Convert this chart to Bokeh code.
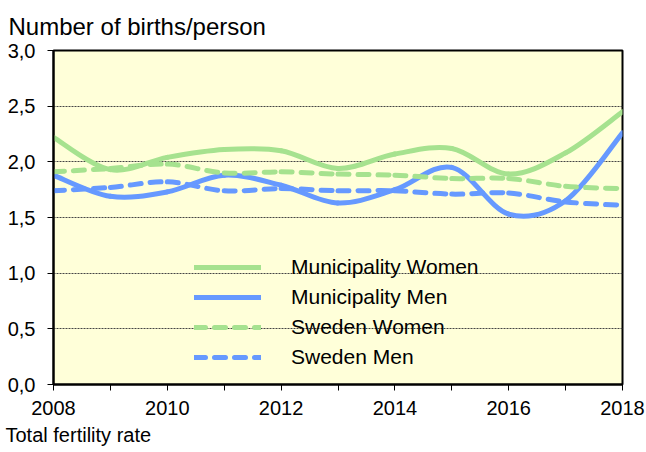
from bokeh.plotting import figure
from bokeh.models import ColumnDataSource, Legend, LegendItem, FixedTicker, Range1d, Title
from bokeh.embed import file_html
from bokeh.resources import INLINE

# ---- data ----
years = [2008, 2009, 2010, 2011, 2012, 2013, 2014, 2015, 2016, 2017, 2018]
muni_women = [2.22, 1.93, 2.04, 2.11, 2.10, 1.94, 2.07, 2.12, 1.89, 2.08, 2.45]
muni_men = [1.88, 1.69, 1.73, 1.88, 1.79, 1.63, 1.75, 1.95, 1.53, 1.65, 2.26]
swe_women = [1.91, 1.94, 1.98, 1.90, 1.91, 1.89, 1.88, 1.85, 1.85, 1.78, 1.76]
swe_men = [1.74, 1.77, 1.82, 1.74, 1.76, 1.74, 1.74, 1.71, 1.72, 1.64, 1.61]
series_names = ["Municipality Women", "Municipality Men", "Sweden Women", "Sweden Men"]
y_ticks = [0.0, 0.5, 1.0, 1.5, 2.0, 2.5, 3.0]
y_tick_labels = ["0,0", "0,5", "1,0", "1,5", "2,0", "2,5", "3,0"]
x_label_years = [2008, 2010, 2012, 2014, 2016, 2018]
title_text = "Number of births/person"
footer_text = "Total fertility rate"

GREEN = "#A6E28F"
BLUE = "#6699FF"
FONT = "Liberation Sans"


def smooth_source(xs, ys):
    n = len(xs)
    d = dict(x0=[], y0=[], x1=[], y1=[], cx0=[], cy0=[], cx1=[], cy1=[])
    for i in range(n - 1):
        a = max(i - 1, 0)
        b = min(i + 2, n - 1)
        d["x0"].append(xs[i]); d["y0"].append(ys[i])
        d["x1"].append(xs[i + 1]); d["y1"].append(ys[i + 1])
        d["cx0"].append(xs[i] + (xs[i + 1] - xs[a]) / 6.0)
        d["cy0"].append(ys[i] + (ys[i + 1] - ys[a]) / 6.0)
        d["cx1"].append(xs[i + 1] - (xs[b] - xs[i]) / 6.0)
        d["cy1"].append(ys[i + 1] - (ys[b] - ys[i]) / 6.0)
    return ColumnDataSource(d)


p = figure(width=646, height=452, output_backend="svg", toolbar_location=None,
           x_range=Range1d(2008, 2018), y_range=Range1d(0, 3),
           min_border_left=53, min_border_right=24, min_border_top=50, min_border_bottom=68)
p.background_fill_color = "#FFFFD9"
p.border_fill_color = "white"
p.outline_line_color = "black"
p.outline_line_width = 2

# axes
for ax in (p.xaxis[0], p.yaxis[0]):
    ax.axis_line_color = "black"
    ax.axis_line_width = 2
    ax.major_tick_line_color = "black"
    ax.major_tick_in = 0
    ax.major_tick_out = 6
    ax.minor_tick_line_color = None
    ax.major_label_text_font = FONT
    ax.major_label_text_font_size = "20px"
    ax.major_label_text_color = "black"

p.xaxis.ticker = FixedTicker(ticks=years)
p.xaxis.major_label_overrides = {y: (str(y) if y in x_label_years else "") for y in years}
p.xaxis.major_label_standoff = 10
p.yaxis.ticker = FixedTicker(ticks=y_ticks)
p.yaxis.major_label_overrides = dict(zip(y_ticks, y_tick_labels))
p.yaxis.major_label_standoff = 12

p.xgrid.visible = False
p.ygrid.ticker = FixedTicker(ticks=y_ticks)
p.ygrid.grid_line_color = "#444444"
p.ygrid.grid_line_dash = "2 1"
p.ygrid.grid_line_width = 1

# series
specs = [
    (muni_women, GREEN, "solid"),
    (muni_men, BLUE, "solid"),
    (swe_women, GREEN, "11 9"),
    (swe_men, BLUE, "11 9"),
]
items = []
for name, (vals, col, dash) in zip(series_names, specs):
    src = smooth_source(years, vals)
    r = p.bezier(x0="x0", y0="y0", x1="x1", y1="y1", cx0="cx0", cy0="cy0",
                 cx1="cx1", cy1="cy1", source=src, line_color=col, line_width=5,
                 line_dash=dash, line_cap="round")
    items.append(LegendItem(label=name, renderers=[r]))

legend = Legend(items=items, location=(141, 15), padding=0, margin=0,
                background_fill_alpha=0, border_line_alpha=0,
                glyph_width=67, glyph_height=24, label_height=24, spacing=6,
                label_standoff=30, label_text_font=FONT, label_text_font_size="21px",
                label_text_color="black")
p.add_layout(legend, "center")

p.add_layout(Title(text=title_text, align="left", offset=-45, standoff=21,
                   text_font=FONT, text_font_size="24px", text_font_style="normal",
                   text_color="black"), "above")
p.add_layout(Title(text=footer_text, align="left", offset=-48, standoff=8,
                   text_font=FONT, text_font_size="20px", text_font_style="normal",
                   text_color="black"), "below")

open("out.html", "w").write(file_html(p, INLINE))
